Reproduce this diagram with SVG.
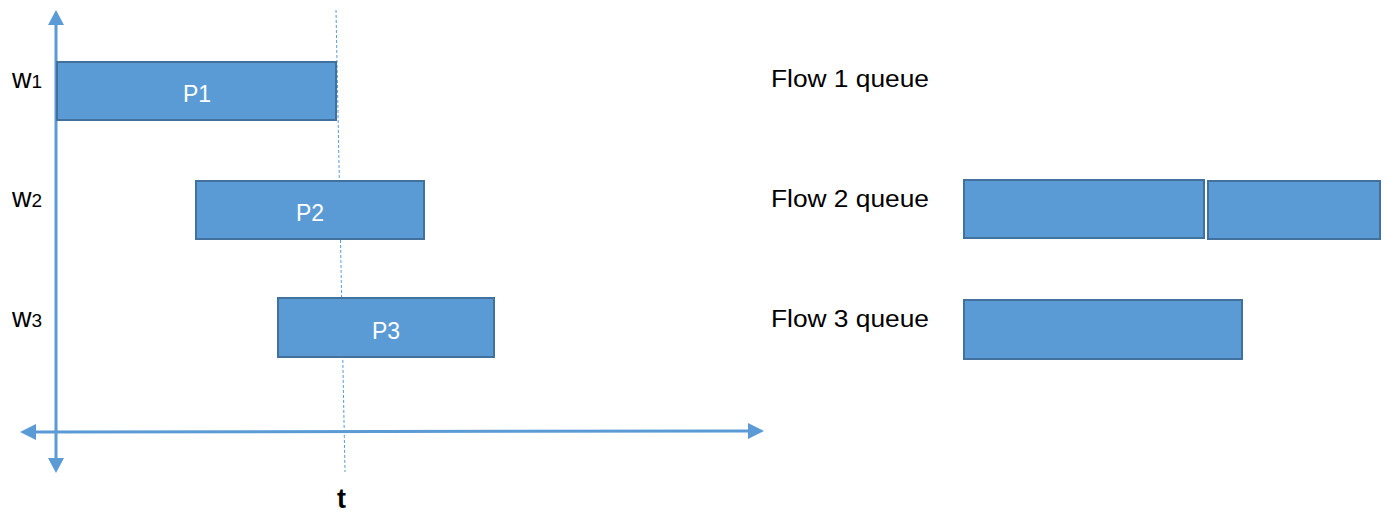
<svg xmlns="http://www.w3.org/2000/svg" width="1388" height="514" viewBox="0 0 1388 514">
<style>
.box{fill:#5B9BD5;stroke:#41719C;stroke-width:2}
.axis{stroke:#5B9BD5;stroke-width:3;fill:none}
.lbl{font-family:"Liberation Sans",Arial,sans-serif;font-size:23px;fill:#000}
.wl{font-family:"Liberation Sans",Arial,sans-serif;font-size:27px;fill:#000}
.pl{font-family:"Liberation Sans",Arial,sans-serif;font-size:23px;fill:#fff;text-anchor:middle}
.head{fill:#5B9BD5}
</style>
<rect width="1388" height="514" fill="#fff"/>
<g id="connectors">
<line x1="336" y1="10" x2="345" y2="472" stroke="#5B9BD5" stroke-width="1" stroke-dasharray="3,2"/>
<line class="axis" x1="56" y1="24" x2="56" y2="458"/>
<polygon class="head" points="56,10 48,25 64,25"/>
<polygon class="head" points="56,473 48,458 64,458"/>
<line class="axis" x1="34" y1="432" x2="750" y2="431"/>
<polygon class="head" points="20,432 36,424 36,440"/>
<polygon class="head" points="764,431 748,423 748,439"/>
</g>
<g id="p1"><rect class="box" x="57" y="62" width="279" height="58"/><text class="pl" x="197" y="102">P1</text></g>
<g id="p2"><rect class="box" x="196" y="181" width="228" height="58"/><text class="pl" x="310" y="221">P2</text></g>
<g id="p3"><rect class="box" x="278" y="298" width="216" height="59"/><text class="pl" x="386" y="339">P3</text></g>
<g id="w1"><text class="wl" x="12" y="88">w<tspan font-size="19" dy="0">1</tspan></text></g>
<g id="w2"><text class="wl" x="12" y="207">w<tspan font-size="19" dy="0">2</tspan></text></g>
<g id="w3"><text class="wl" x="12" y="327">w<tspan font-size="19" dy="0">3</tspan></text></g>
<g id="t"><text x="337" y="508" font-family="Liberation Sans,Arial,sans-serif" font-size="27" font-weight="bold">t</text></g>
<g id="flow1"><text class="lbl" x="771" y="87" textLength="158" lengthAdjust="spacingAndGlyphs">Flow 1 queue</text></g>
<g id="flow2"><text class="lbl" x="771" y="207" textLength="158" lengthAdjust="spacingAndGlyphs">Flow 2 queue</text></g>
<g id="flow3"><text class="lbl" x="771" y="327" textLength="158" lengthAdjust="spacingAndGlyphs">Flow 3 queue</text></g>
<g id="q2a"><rect class="box" x="964" y="180" width="240" height="58"/></g>
<g id="q2b"><rect class="box" x="1208" y="181" width="172" height="58"/></g>
<g id="q3"><rect class="box" x="964" y="300" width="278" height="59"/></g>
</svg>
